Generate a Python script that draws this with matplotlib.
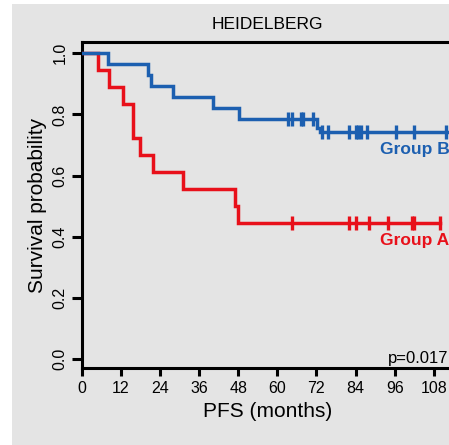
import numpy as np
import matplotlib.pyplot as plt
from matplotlib.patches import Rectangle

plt.rcParams['font.family'] = ['Liberation Sans', 'DejaVu Sans']

# Kaplan-Meier steps (months, survival)
group_a_t = [0, 4.9, 8.5, 12.8, 15.8, 17.9, 22.0, 31.2, 47.1, 48.0, 110]
group_a_s = [1.0, 0.944, 0.889, 0.833, 0.722, 0.667, 0.611, 0.556, 0.50, 0.444, 0.444]
group_a_cens = [64.4, 82.0, 84.1, 88.2, 94.1, 101.2, 101.9, 109.9]

group_b_t = [0, 8.2, 20.4, 21.2, 28.1, 40.2, 48.3, 72.1, 73.0, 114]
group_b_s = [1.0, 0.964, 0.929, 0.893, 0.857, 0.821, 0.786, 0.757, 0.742, 0.742]
group_b_cens = [63.4, 64.4, 67.3, 68.0, 70.8, 73.6, 75.6, 82.0, 84.1, 84.8,
                85.6, 87.4, 96.4, 102.0, 111.6]

x_ticks = list(range(0, 109, 12))
y_ticks = [0.0, 0.2, 0.4, 0.6, 0.8, 1.0]

red = '#e8101a'
blue = '#1c5fb0'
bg = '#e4e4e4'

fig = plt.figure(figsize=(4.49, 4.45), dpi=100)
fig.patch.set_facecolor('white')
fig.patches.append(Rectangle((12 / 449, 0), 1, 1 - 4 / 445, transform=fig.transFigure,
                             facecolor=bg, edgecolor='none', zorder=-10))

ax = fig.add_axes([81.7 / 449, 1 - 368.3 / 445, 371 / 449, (368.3 - 41.7) / 445])
ax.set_facecolor(bg)


def censor_y(t, steps_t, steps_s):
    idx = np.searchsorted(steps_t, t, side='right') - 1
    return np.array(steps_s)[idx]


for t, s, c, col in [(group_a_t, group_a_s, group_a_cens, red),
                     (group_b_t, group_b_s, group_b_cens, blue)]:
    ax.step(t, s, where='post', color=col, lw=2.5, solid_joinstyle='miter', zorder=3)
    ax.plot(c, censor_y(c, t, s), ls='none', marker='|', ms=10, mew=2.4, color=col, zorder=3)

ax.set_xlim(0, 113.8)
ax.set_ylim(-0.030, 1.038)
ax.set_xticks(x_ticks)
ax.set_yticks(y_ticks)
ax.set_yticklabels(['%.1f' % v for v in y_ticks], rotation=90, va='center')

for side in ['left', 'top', 'bottom']:
    ax.spines[side].set_linewidth(2.2)
ax.spines['right'].set_visible(False)
ax.tick_params(axis='both', width=2.2, length=6, labelsize=11.5, colors='black')
ax.tick_params(axis='y', length=7, pad=3)
ax.tick_params(axis='x', pad=3.5)

ax.text(91.5, 0.684, 'Group B', color=blue, fontsize=12.5, fontweight='bold', va='center')
ax.text(91.5, 0.389, 'Group A', color=red, fontsize=12.5, fontweight='bold', va='center')
ax.text(94.0, -0.012, 'p=0.017', fontsize=12, va='baseline')

ax.set_xlabel('PFS (months)', fontsize=15, labelpad=4)
ax.set_ylabel('Survival probability', fontsize=15, labelpad=4)
ax.set_title('HEIDELBERG', fontsize=12.5, pad=9)

fig.savefig('out.png', dpi=100, facecolor=fig.get_facecolor())
